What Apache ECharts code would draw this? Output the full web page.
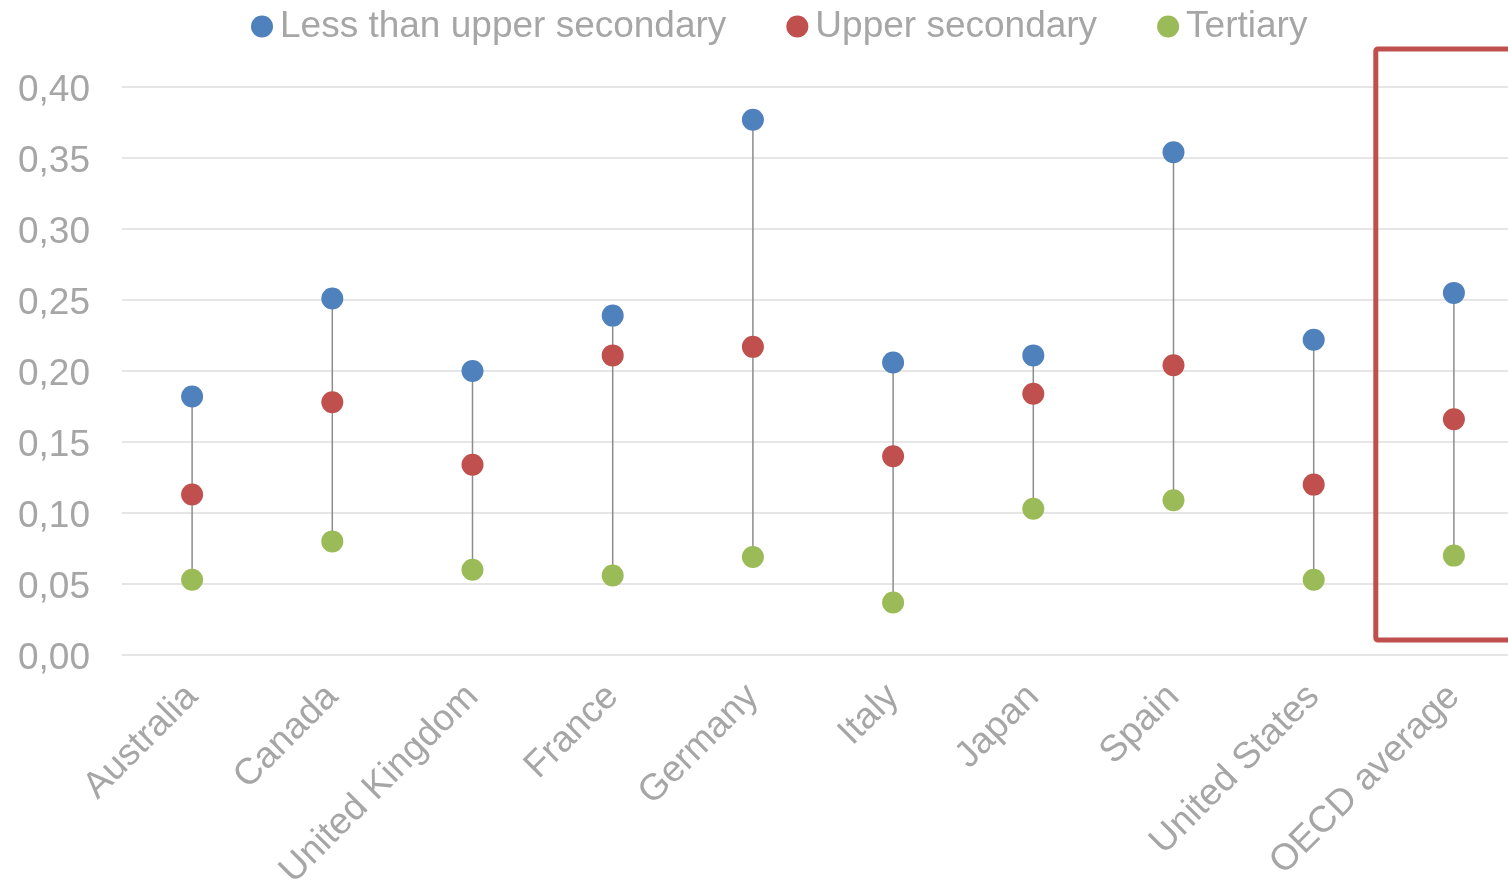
<!DOCTYPE html>
<html>
<head>
<meta charset="utf-8">
<script src="https://cdn.jsdelivr.net/npm/echarts@6/dist/echarts.min.js"></script>
<style>
  html, body { margin: 0; padding: 0; background: #fff; }
  #chart { width: 1508px; height: 886px; }
</style>
</head>
<body>
<div id="chart"></div>
<script>
// categories and values
var countries = ['Australia', 'Canada', 'United Kingdom', 'France', 'Germany', 'Italy', 'Japan', 'Spain', 'United States', 'OECD average'];
var lessThanUpper = [0.182, 0.251, 0.200, 0.239, 0.377, 0.206, 0.211, 0.354, 0.222, 0.255];
var upperSecondary = [0.113, 0.178, 0.134, 0.211, 0.217, 0.140, 0.184, 0.204, 0.120, 0.166];
var tertiary = [0.053, 0.080, 0.060, 0.056, 0.069, 0.037, 0.103, 0.109, 0.053, 0.070];
var yTicks = [0, 0.05, 0.10, 0.15, 0.20, 0.25, 0.30, 0.35, 0.40];

var grey = '#a6a6a6';
var fontFam = '"Liberation Sans", Arial, sans-serif';

// range for the vertical connector lines
var ranges = countries.map(function(c, i) {
    var v = [lessThanUpper[i], upperSecondary[i], tertiary[i]];
    return [i, Math.min.apply(null, v), Math.max.apply(null, v)];
});

var chart = echarts.init(document.getElementById('chart'));

var option = {
    animation: false,
    textStyle: { fontFamily: fontFam },
    legend: {
        top: 3,
        left: 246,
        itemWidth: 22,
        itemHeight: 22,
        itemGap: 60,
        icon: 'circle',
        textStyle: { color: grey, fontSize: 37, padding: [0, 0, 0, 2] },
        data: ['Less than upper secondary', 'Upper secondary', 'Tertiary']
    },
    grid: {
        left: 122,
        top: 87,
        width: 1402,
        height: 568,
        outerBoundsMode: 'none'
    },
    xAxis: {
        type: 'category',
        data: countries,
        axisLine: { show: false },
        axisTick: { show: false },
        axisLabel: {
            rotate: 45,
            margin: 36,
            color: grey,
            fontSize: 37,
            interval: 0
        }
    },
    yAxis: {
        type: 'value',
        min: yTicks[0],
        max: yTicks[yTicks.length - 1],
        interval: 0.05,
        axisLine: { show: false },
        axisTick: { show: false },
        splitLine: { lineStyle: { color: '#e6e6e6', width: 2 } },
        axisLabel: {
            color: grey,
            fontSize: 37,
            margin: 32,
            formatter: function(v) { return '{v|' + v.toFixed(2).replace('.', ',') + '}'; },
            rich: {
                v: { color: grey, fontSize: 37, lineHeight: 44, verticalAlign: 'bottom' }
            }
        }
    },
    series: [
        {
            type: 'custom',
            name: 'range',
            data: ranges,
            silent: true,
            z: 1,
            renderItem: function(params, api) {
                var p1 = api.coord([api.value(0), api.value(1)]);
                var p2 = api.coord([api.value(0), api.value(2)]);
                return {
                    type: 'line',
                    shape: { x1: p1[0], y1: p1[1], x2: p2[0], y2: p2[1] },
                    style: { stroke: '#8c8c8c', lineWidth: 1.5 }
                };
            }
        },
        {
            type: 'scatter',
            name: 'Less than upper secondary',
            data: lessThanUpper,
            symbolSize: 22,
            z: 3,
            itemStyle: { color: '#4f81bd', opacity: 1 }
        },
        {
            type: 'scatter',
            name: 'Upper secondary',
            data: upperSecondary,
            symbolSize: 22,
            z: 3,
            itemStyle: { color: '#c0504d', opacity: 1 }
        },
        {
            type: 'scatter',
            name: 'Tertiary',
            data: tertiary,
            symbolSize: 22,
            z: 3,
            itemStyle: { color: '#9bbb59', opacity: 1 }
        }
    ]
};
chart.setOption(option);

// red highlight box round the OECD average
var last = countries.length - 1;
var cx = chart.convertToPixel({ xAxisIndex: 0 }, countries[last]);
var band = 1402 / countries.length;
var yTop = chart.convertToPixel({ yAxisIndex: 0 }, 0.40);
var yBot = chart.convertToPixel({ yAxisIndex: 0 }, 0.0);
chart.setOption({
    graphic: [{
        type: 'rect',
        z: 10,
        shape: { x: cx - band / 2 - 8, y: yTop - 38, width: 200, height: (yBot - 15) - (yTop - 38), r: 2 },
        style: { fill: 'none', stroke: '#c0504d', lineWidth: 5 }
    }]
});
</script>
</body>
</html>
